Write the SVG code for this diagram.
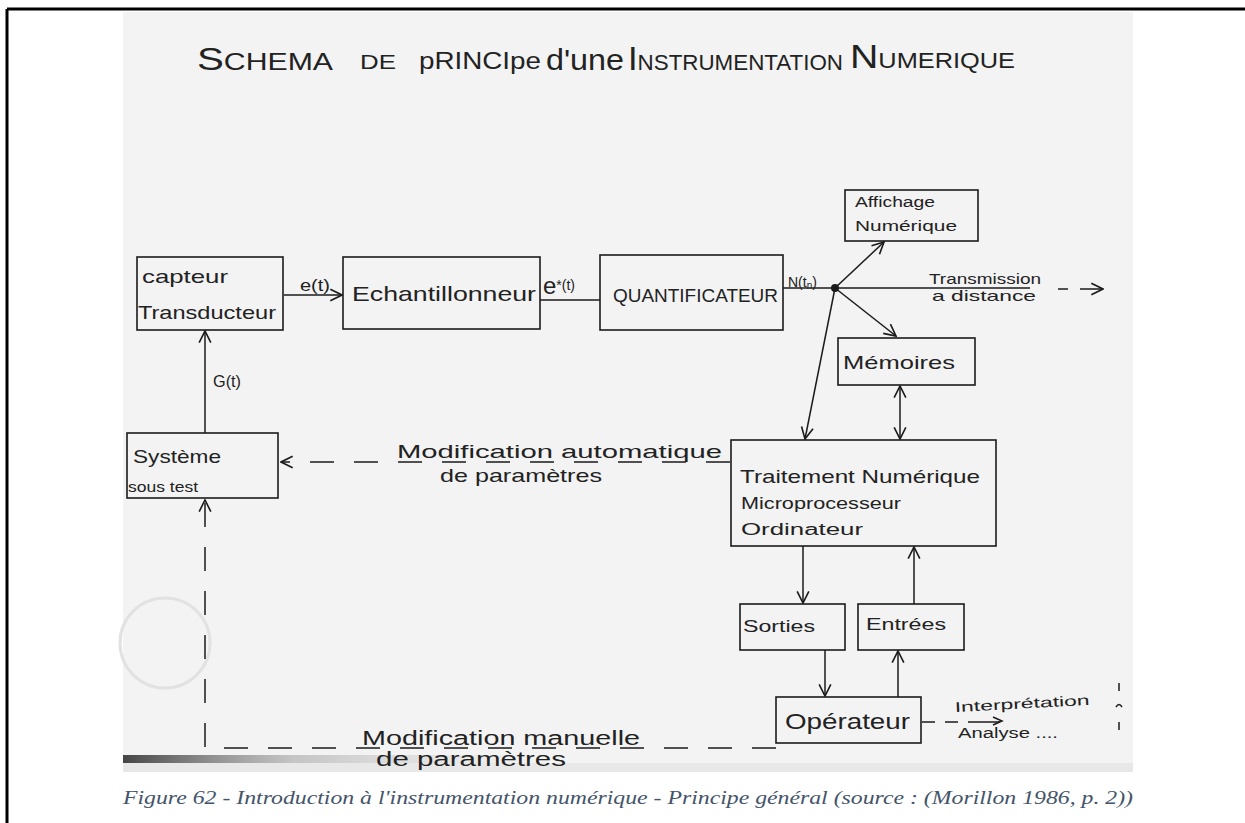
<svg xmlns="http://www.w3.org/2000/svg" width="1245" height="823" viewBox="0 0 1245 823">
<defs>
<style>
.box{fill:none;stroke:#1b1b1b;stroke-width:1.6}
.ln{fill:none;stroke:#1b1b1b;stroke-width:1.5}
.dash{stroke-dasharray:24 20}
.hw{font-family:"Liberation Sans","DejaVu Sans",sans-serif;fill:#222}
.cap{font-family:"Liberation Serif",serif;font-style:italic;fill:#44546A;font-size:19px}
</style>
<marker id="arr" viewBox="0 0 12 12" refX="11" refY="6" markerWidth="14" markerHeight="14" markerUnits="userSpaceOnUse" orient="auto-start-reverse">
<path d="M1,1 L11,6 L1,11" fill="none" stroke="#1b1b1b" stroke-width="1.4"/>
</marker>
<linearGradient id="shadeH" x1="0" y1="0" x2="1" y2="0">
<stop offset="0" stop-color="#1a1a1a" stop-opacity="0.8"/>
<stop offset="0.4" stop-color="#555" stop-opacity="0.3"/>
<stop offset="1" stop-color="#999" stop-opacity="0"/>
</linearGradient>
</defs>

<rect x="0" y="0" width="1245" height="823" fill="#ffffff"/>
<g id="frame">
<line x1="7" y1="9" x2="1245" y2="9" stroke="#000" stroke-width="3"/>
<line x1="7" y1="9" x2="7" y2="823" stroke="#000" stroke-width="3"/>
</g>

<g id="scan">
<rect x="123" y="12" width="1010" height="760" fill="#f3f3f3"/>
<rect x="123" y="755" width="420" height="8" fill="url(#shadeH)"/>
<rect x="123" y="763" width="1010" height="9" fill="#e8e8e8"/>
<circle cx="165" cy="643" r="45" fill="none" stroke="#e2e2e2" stroke-width="3"/>
</g>

<g id="title" class="hw">
<text x="197" y="70" font-size="24" textLength="136" lengthAdjust="spacingAndGlyphs"><tspan font-size="32">S</tspan>CHEMA</text>
<text x="360" y="69" font-size="20" textLength="36" lengthAdjust="spacingAndGlyphs">DE</text>
<text x="419" y="69" font-size="24" textLength="122" lengthAdjust="spacingAndGlyphs">pRINCIpe</text>
<text x="546" y="70" font-size="30" textLength="78" lengthAdjust="spacingAndGlyphs">d'une</text>
<text x="628" y="70" font-size="22" textLength="215" lengthAdjust="spacingAndGlyphs"><tspan font-size="34">I</tspan>NSTRUMENTATION</text>
<text x="850" y="68" font-size="22" textLength="165" lengthAdjust="spacingAndGlyphs"><tspan font-size="34">N</tspan>UMERIQUE</text>
</g>

<g id="connectors">
<line class="ln" x1="284" y1="295" x2="342" y2="295" marker-end="url(#arr)"/>
<line class="ln" x1="540" y1="300" x2="600" y2="300"/>
<line class="ln" x1="783" y1="288" x2="1030" y2="288"/>
<line class="ln" x1="1058" y1="289" x2="1068" y2="289"/>
<line class="ln" x1="1080" y1="289" x2="1103" y2="289" marker-end="url(#arr)"/>
<circle cx="835" cy="288" r="4" fill="#1b1b1b"/>
<line class="ln" x1="835" y1="288" x2="884" y2="242" marker-end="url(#arr)"/>
<line class="ln" x1="835" y1="288" x2="896" y2="336" marker-end="url(#arr)"/>
<line class="ln" x1="835" y1="288" x2="805" y2="439" marker-end="url(#arr)"/>
<line class="ln" x1="900" y1="386" x2="900" y2="439" marker-start="url(#arr)" marker-end="url(#arr)"/>
<line class="ln" x1="803" y1="546" x2="803" y2="603" marker-end="url(#arr)"/>
<line class="ln" x1="914" y1="604" x2="914" y2="547" marker-end="url(#arr)"/>
<line class="ln" x1="825" y1="650" x2="825" y2="696" marker-end="url(#arr)"/>
<line class="ln" x1="898" y1="697" x2="898" y2="651" marker-end="url(#arr)"/>
<line class="ln" x1="205" y1="433" x2="205" y2="331" marker-end="url(#arr)"/>
<line class="ln dash" x1="730" y1="462" x2="281" y2="462" marker-end="url(#arr)"/>
<path class="ln dash" d="M776,748 L205,748 L205,500" marker-end="url(#arr)"/>
<path class="ln" d="M922,722 L935,722 M945,722 L958,722 M968,722 L1000,722"/>
<path class="ln" d="M993,717 L1002,721 L993,725"/>
<path class="ln" d="M1119,683 L1119,691 M1116,707 Q1119,702 1122,707 M1119,722 L1119,730"/>
</g>

<g id="capteur">
<rect class="box" x="137" y="257" width="146" height="73"/>
<text class="hw" x="142" y="283" font-size="19" textLength="86" lengthAdjust="spacingAndGlyphs">capteur</text>
<text class="hw" x="138" y="319" font-size="19" textLength="138" lengthAdjust="spacingAndGlyphs">Transducteur</text>
</g>
<text class="hw" x="300" y="291" font-size="17" textLength="30" lengthAdjust="spacingAndGlyphs">e(t)</text>

<g id="echantillonneur">
<rect class="box" x="343" y="257" width="197" height="72"/>
<text class="hw" x="352" y="301" font-size="21" textLength="184" lengthAdjust="spacingAndGlyphs">Echantillonneur</text>
</g>
<text class="hw" x="543" y="294" font-size="24">e<tspan font-size="14" dy="-4">*(t)</tspan></text>

<g id="quantificateur">
<rect class="box" x="600" y="255" width="183" height="75"/>
<text class="hw" x="613" y="302" font-size="19" textLength="165" lengthAdjust="spacingAndGlyphs">QUANTIFICATEUR</text>
</g>
<text class="hw" x="788" y="287" font-size="14">N(t<tspan font-size="10" dy="2">n</tspan><tspan dy="-2">)</tspan></text>

<g id="affichage">
<rect class="box" x="845" y="190" width="133" height="51"/>
<text class="hw" x="855" y="207" font-size="14" textLength="80" lengthAdjust="spacingAndGlyphs">Affichage</text>
<text class="hw" x="855" y="231" font-size="14" textLength="102" lengthAdjust="spacingAndGlyphs">Numérique</text>
</g>

<g id="transmission" class="hw">
<text x="929" y="284" font-size="15" textLength="112" lengthAdjust="spacingAndGlyphs">Transmission</text>
<text x="932" y="301" font-size="15" textLength="104" lengthAdjust="spacingAndGlyphs">a distance</text>
</g>

<g id="memoires">
<rect class="box" x="838" y="338" width="137" height="47"/>
<text class="hw" x="843" y="369" font-size="19" textLength="112" lengthAdjust="spacingAndGlyphs">Mémoires</text>
</g>

<g id="traitement">
<rect class="box" x="731" y="440" width="265" height="106"/>
<text class="hw" x="740" y="483" font-size="19" textLength="240" lengthAdjust="spacingAndGlyphs">Traitement Numérique</text>
<text class="hw" x="741" y="509" font-size="16" textLength="160" lengthAdjust="spacingAndGlyphs">Microprocesseur</text>
<text class="hw" x="741" y="535" font-size="16" textLength="122" lengthAdjust="spacingAndGlyphs">Ordinateur</text>
</g>

<g id="systeme">
<rect class="box" x="127" y="433" width="151" height="65"/>
<text class="hw" x="133" y="463" font-size="19" textLength="88" lengthAdjust="spacingAndGlyphs">Système</text>
<text class="hw" x="128" y="492" font-size="15" textLength="70" lengthAdjust="spacingAndGlyphs">sous test</text>
</g>
<text class="hw" x="213" y="387" font-size="16" textLength="28" lengthAdjust="spacingAndGlyphs">G(t)</text>

<g id="modif-auto" class="hw">
<text x="397" y="458" font-size="19" textLength="325" lengthAdjust="spacingAndGlyphs">Modification automatique</text>
<text x="440" y="482" font-size="19" textLength="162" lengthAdjust="spacingAndGlyphs">de paramètres</text>
</g>

<g id="sorties">
<rect class="box" x="740" y="604" width="105" height="46"/>
<text class="hw" x="743" y="632" font-size="16" textLength="72" lengthAdjust="spacingAndGlyphs">Sorties</text>
</g>
<g id="entrees">
<rect class="box" x="858" y="604" width="106" height="46"/>
<text class="hw" x="866" y="630" font-size="16" textLength="80" lengthAdjust="spacingAndGlyphs">Entrées</text>
</g>

<g id="operateur">
<rect class="box" x="776" y="697" width="145" height="46"/>
<text class="hw" x="785" y="729" font-size="22" textLength="125" lengthAdjust="spacingAndGlyphs">Opérateur</text>
</g>

<g id="interpretation" class="hw">
<text x="955" y="712" font-size="14" textLength="135" lengthAdjust="spacingAndGlyphs" transform="rotate(-3 955 712)">Interprétation</text>
<text x="958" y="738" font-size="14" textLength="100" lengthAdjust="spacingAndGlyphs">Analyse ....</text>
</g>

<g id="modif-manuelle" class="hw">
<text x="362" y="745" font-size="20" textLength="278" lengthAdjust="spacingAndGlyphs">Modification manuelle</text>
<text x="376" y="766" font-size="20" textLength="190" lengthAdjust="spacingAndGlyphs">de paramètres</text>
</g>

<text class="cap" x="123" y="804" textLength="1010" lengthAdjust="spacingAndGlyphs">Figure 62 - Introduction à l'instrumentation numérique - Principe général (source : (Morillon 1986, p. 2))</text>
</svg>
